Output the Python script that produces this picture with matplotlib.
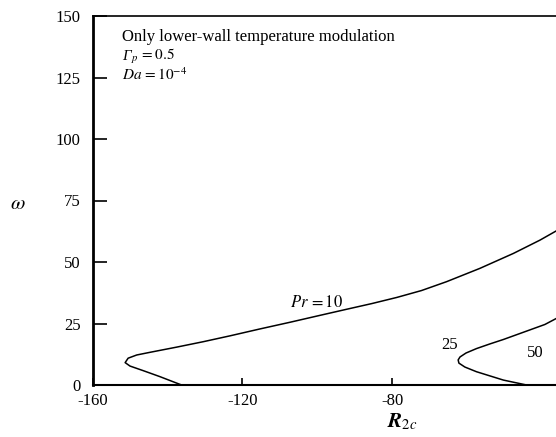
import matplotlib
matplotlib.use("Agg")
import matplotlib.pyplot as plt
from matplotlib.transforms import offset_copy

# ---- data ----
pr10_R = [-136.3, -142.1, -146.5, -150.1, -151.4, -150.6, -148.3, -144.7, -137.6,
          -130.5, -123.3, -115.3, -107.3, -99.3, -92.1, -85.4, -78.7, -72.1, -65.4,
          -56.5, -47.5, -40.4, -36.1, -34.5]
pr10_w = [0.0, 3.4, 5.8, 7.7, 9.1, 10.9, 12.2, 13.3, 15.4,
          17.6, 20.0, 22.8, 25.5, 28.3, 30.8, 33.1, 35.6, 38.4, 42.0,
          47.4, 53.5, 58.9, 62.6, 64.5]

pr25_R = [-44.0, -50.2, -57.4, -60.5, -62.1, -62.3, -61.8, -60.2, -57.4, -53.8,
          -50.2, -43.1, -39.1, -36.1, -34.5]
pr25_w = [0.0, 2.0, 5.4, 7.3, 8.9, 10.2, 11.4, 13.0, 14.8, 16.7,
          18.5, 22.4, 24.6, 27.0, 28.5]

x_ticks = [-160, -120, -80]
y_ticks = [0, 25, 50, 75, 100, 125, 150]
x_limits = (-160, 0)
y_limits = (0, 150)

plt.rcParams['font.family'] = ['Liberation Serif', 'DejaVu Serif']
plt.rcParams['mathtext.fontset'] = 'stix'

fig = plt.figure(figsize=(5.56, 4.37), dpi=100)
ax = fig.add_axes([93/556, 52/437, 598/556, 369/437])

ax.plot(pr10_R, pr10_w, color='black', lw=1.1)
ax.plot(pr25_R, pr25_w, color='black', lw=1.1)

ax.set_xlim(*x_limits)
ax.set_ylim(*y_limits)
ax.set_xticks(x_ticks)
ax.set_yticks(y_ticks)
ax.set_xticklabels([str(t) for t in x_ticks])
ax.set_yticklabels([str(t) for t in y_ticks])

ax.tick_params(axis='x', direction='in', length=5, width=1.2, labelsize=12, pad=6)
ax.tick_params(axis='y', direction='in', length=10, width=1.2, labelsize=12, pad=9)

ax.spines['right'].set_visible(False)
ax.spines['left'].set_linewidth(2.0)
ax.spines['bottom'].set_linewidth(1.5)
ax.spines['top'].set_linewidth(1.2)

fs = 12
fa = 11
ax.text(-152.2, 141.4, 'Only lower-wall temperature modulation', fontsize=fs,
        va='center', ha='left')
g = ax.text(-152.2, 132.0, 'Γ', fontsize=fa, style='italic', va='baseline', ha='left')
fig.canvas.draw()
gw = g.get_window_extent(renderer=fig.canvas.get_renderer()).width
trans = offset_copy(ax.transData, fig=fig, x=gw * 72.0 / fig.dpi, y=0, units='points')
ax.text(-152.2, 132.0, r'$_p\, = 0.5$', fontsize=fa, va='baseline', ha='left',
        transform=trans)
ax.text(-152.2, 124.0, r'$Da\, = 10^{-4}$', fontsize=fa, va='baseline', ha='left')

ax.text(-93.1, 33.5, r'$Pr\, = 10$', fontsize=fs, va='center', ha='right')
ax.text(-64.5, 16.3, '25', fontsize=fs, va='center', ha='center')
ax.text(-43.9, 13.0, '50', fontsize=fs, va='center', ha='left')

fig.text(18/556, 1 - 205/437, r'$\omega$', fontsize=15, ha='center', va='center')
fig.text(402/556, 1 - 422/437, r'$\boldsymbol{R}_{2c}$', fontsize=15, ha='center', va='center')

fig.savefig('out.png', dpi=100)
